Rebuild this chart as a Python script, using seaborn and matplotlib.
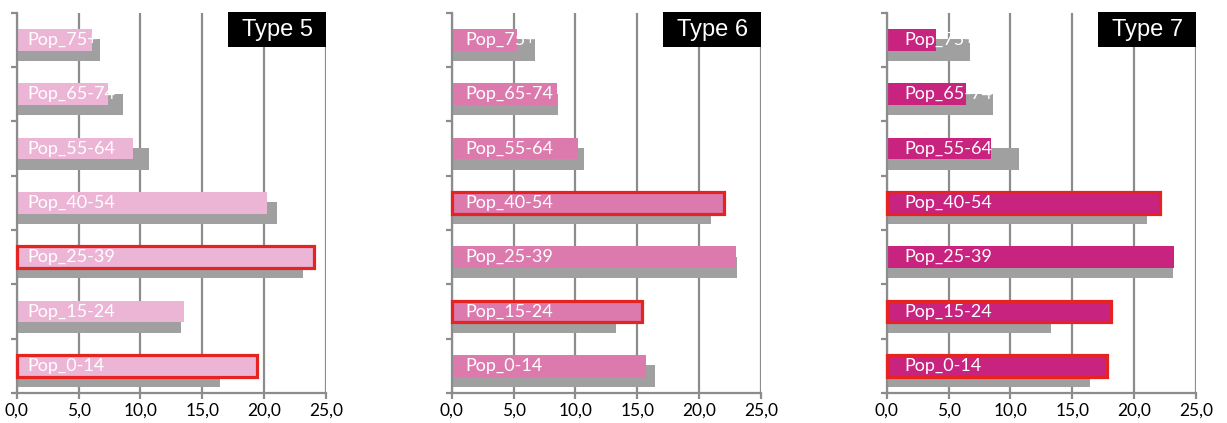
"""Age-group profile of three types vs. overall average (horizontal bars)."""

import matplotlib.pyplot as plt
import matplotlib.ticker as mticker
import numpy as np
import seaborn as sns
from matplotlib.patches import Rectangle

sns.set_theme(style="white")

# ---- data -------------------------------------------------------------
categories = ["Pop_75+", "Pop_65-74", "Pop_55-64", "Pop_40-54",
              "Pop_25-39", "Pop_15-24", "Pop_0-14"]
overall = [6.7, 8.6, 10.7, 21.0, 23.1, 13.3, 16.4]

type5 = [6.1, 7.4, 9.4, 20.2, 24.0, 13.5, 19.4]
type6 = [5.3, 8.5, 10.2, 22.0, 23.0, 15.4, 15.7]
type7 = [4.0, 6.4, 8.4, 22.1, 23.2, 18.1, 17.8]

highlight5 = ["Pop_25-39", "Pop_0-14"]
highlight6 = ["Pop_40-54", "Pop_15-24"]
highlight7 = ["Pop_40-54", "Pop_15-24", "Pop_0-14"]

x_ticks = [0, 5, 10, 15, 20, 25]

panels = [
    ("Type 5", type5, highlight5, "#ECB5D5", 0.85),
    ("Type 6", type6, highlight6, "#DC7AAE", 1.1),
    ("Type 7", type7, highlight7, "#C8237F", 1.4),
]

GREY_BAR = "#A0A0A0"
AXIS_GREY = "#8C8C8C"
RED = "#E52421"

fig = plt.figure(figsize=(12.27, 4.23), dpi=100)
lefts = [0.0136, 0.3681, 0.7227]

for left, (title, values, highlight, color, text_x) in zip(lefts, panels):
    ax = fig.add_axes([left, 0.0709, 0.2521, 0.899])

    # overall average, drawn behind and shifted down a little
    sns.barplot(x=overall, y=categories, order=categories, orient="h",
                color=GREY_BAR, saturation=1, width=0.4, errorbar=None,
                linewidth=0, ax=ax)
    n_grey = len(ax.patches)
    for p in ax.patches[:n_grey]:
        p.set_y(p.get_y() + 0.19)
        p.set_zorder(1)

    sns.barplot(x=values, y=categories, order=categories, orient="h",
                color=color, saturation=1, width=0.4, errorbar=None,
                linewidth=0, ax=ax)
    for cat, p in zip(categories, ax.patches[n_grey:]):
        p.set_zorder(2)
        if cat in highlight:
            p.set_edgecolor(RED)
            p.set_linewidth(2.3)
            p.set_clip_on(False)
            p.set_zorder(3)

    for i, cat in enumerate(categories):
        ax.text(text_x, i, cat, color="white", fontsize=13, family="Lato",
                ha="left", va="center", zorder=5)

    ax.set_xlim(0, 25)
    ax.set_ylim(len(categories) - 0.5, -0.5)
    ax.set_xticks(x_ticks)
    ax.xaxis.set_major_formatter(
        mticker.FuncFormatter(lambda x, _: f"{x:.1f}".replace(".", ",")))
    ax.set_yticks(np.arange(len(categories) + 1) - 0.5)
    ax.set_yticklabels([])
    ax.set_xlabel("")
    ax.set_ylabel("")

    ax.grid(axis="x", color=AXIS_GREY, linewidth=1.6)
    ax.grid(axis="y", visible=False)
    ax.set_axisbelow(True)
    for side in ["top", "right"]:
        ax.spines[side].set_visible(False)
    for side in ["left", "bottom"]:
        ax.spines[side].set_color(AXIS_GREY)
        ax.spines[side].set_linewidth(1.6)
    ax.tick_params(axis="both", direction="out", length=4, width=1.6,
                   color=AXIS_GREY, left=True, bottom=True)
    ax.tick_params(axis="x", labelsize=12.5, pad=3)
    for lbl in ax.get_xticklabels():
        lbl.set_family("Lato")
        lbl.set_color("black")

    # black title box in the top-right corner
    ax.add_patch(Rectangle((0.684, 0.909), 0.316, 0.093, transform=ax.transAxes,
                           facecolor="black", edgecolor="none", zorder=6,
                           clip_on=False))
    ax.text(0.842, 0.955, title, transform=ax.transAxes, color="white",
            fontsize=17, family="Liberation Sans", ha="center", va="center",
            zorder=7)

plt.savefig("out.png", dpi=100)
plt.close()
